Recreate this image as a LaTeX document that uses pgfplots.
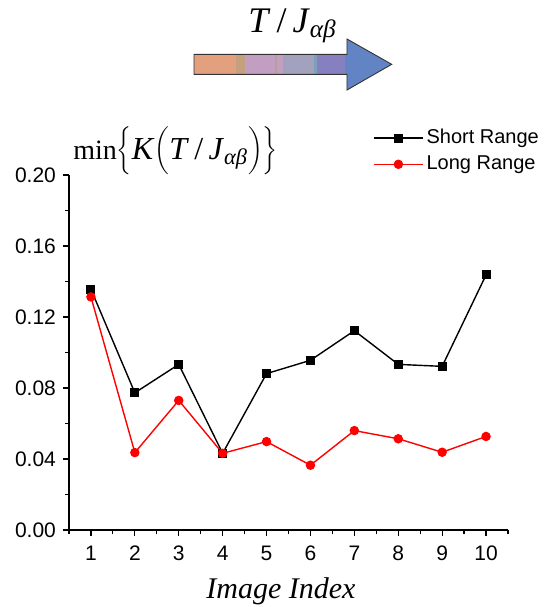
\documentclass[border=0pt]{standalone}
\usepackage{fontspec}
\usepackage{pgfplots}
\pgfplotsset{compat=1.18}
\setmainfont{Liberation Sans}
\newfontfamily\tms{Liberation Serif}
\definecolor{arrO}{HTML}{E2A07E}
\definecolor{arrT}{HTML}{C4A07E}
\definecolor{arrP}{HTML}{C29EC2}
\definecolor{arrG}{HTML}{A2A2BE}
\definecolor{arrC}{HTML}{7EA0B8}
\definecolor{arrV}{HTML}{8680C0}
\definecolor{arrB}{HTML}{6384C4}

\begin{document}
\begin{tikzpicture}
% fixed page size, 1px = 0.5pt, axis box lower left at origin
\useasboundingbox (-34.5pt,-38.5pt) rectangle (241.5pt,265pt);
\begin{axis}[
  scale only axis,
  width=219.5pt, height=177.5pt,
  xmin=0.5, xmax=10.5,
  ymin=0, ymax=0.2,
  clip=false,
  axis lines=left,
  axis line style={-, line width=0.6pt, black},
  xtick={1,...,10},
  ytick={0,0.04,0.08,0.12,0.16,0.2},
  minor xtick={0.5,1.5,...,10.5},
  minor ytick={0.02,0.06,0.1,0.14,0.18},
  tick align=outside,
  major tick length=3pt, minor tick length=1.75pt,
  tick style={line width=0.6pt, black},
  scaled y ticks=false,
  yticklabel style={/pgf/number format/.cd, fixed, zerofill, precision=2},
  xticklabel style={yshift=-1.5pt},
  /pgf/number format/assume math mode=true,
  ticklabel style={font=\fontsize{10.5}{12}\selectfont},
  xlabel={\tms\itshape Image Index},
  xlabel style={font=\fontsize{15}{18}\selectfont, at={(axis description cs:0.483,0)}, anchor=base, yshift=-34pt},
  legend style={draw=none, fill=none, at={(0.692,1.138)}, anchor=north west,
    font=\fontsize{10}{12}\selectfont, inner sep=0pt, row sep=1.5pt,
    nodes={inner sep=1.5pt}},
  legend cell align=left,
  legend image code/.code={\draw[mark repeat=2,mark phase=2] plot coordinates {(0pt,0pt) (12.25pt,0pt) (24.5pt,0pt)};},
]
\addplot[black, line width=0.7pt, mark=square*, mark size=1.9pt, mark options={solid}]
  coordinates {(1,0.1356) (2,0.0773) (3,0.0933) (4,0.0432) (5,0.0881) (6,0.0956) (7,0.1123) (8,0.0933) (9,0.0922) (10,0.1437)};
\addplot[red, line width=0.7pt, mark=*, mark size=2pt, mark options={solid}]
  coordinates {(1,0.1313) (2,0.0436) (3,0.0730) (4,0.0432) (5,0.0498) (6,0.0365) (7,0.0560) (8,0.0514) (9,0.0438) (10,0.0527)};
\legend{Short Range, Long Range}
\end{axis}
% y label above axis
\node[anchor=base west, inner sep=0pt, font=\fontsize{16}{20}\selectfont\tms] at (2pt,185.5pt)
  {{\fontsize{14}{16}\selectfont min}$\biggl\{$\textit{K}$\biggl($\textit{T}\,/\,\textit{J}\textsubscript{\textit{αβ}}$\biggr)\biggr\}$};
% colour bar arrow
\fill[arrO] (62.5pt,227.85pt) rectangle (83.5pt,237.85pt);
\fill[arrT] (83.5pt,227.85pt) rectangle (88pt,237.85pt);
\fill[arrP] (88pt,227.85pt) rectangle (103pt,237.85pt);
\fill[arrT!60!arrG] (103pt,227.85pt) rectangle (104pt,237.85pt);
\fill[arrP] (104pt,227.85pt) rectangle (107pt,237.85pt);
\fill[arrG] (107pt,227.85pt) rectangle (122.5pt,237.85pt);
\fill[arrC] (122.5pt,227.85pt) rectangle (124pt,237.85pt);
\fill[arrV] (124pt,227.85pt) rectangle (138pt,237.85pt);
\fill[arrB] (138pt,227.85pt) rectangle (139.2pt,237.85pt);
\fill[arrB] (139pt,220pt) -- (161.35pt,232.85pt) -- (139pt,245.5pt) -- cycle;
\draw[black!80, line width=0.45pt, line join=miter]
  (62.5pt,227.85pt) -- (139pt,227.85pt) -- (139pt,220pt) -- (161.35pt,232.85pt)
  -- (139pt,245.5pt) -- (139pt,237.85pt) -- (62.5pt,237.85pt) -- cycle;
\node[anchor=base west, inner sep=0pt, font=\fontsize{18}{21}\selectfont\tms] at (89.5pt,249pt)
  {\textit{T}\,/\,\textit{J}\textsubscript{\textit{αβ}}};
\end{tikzpicture}
\end{document}
